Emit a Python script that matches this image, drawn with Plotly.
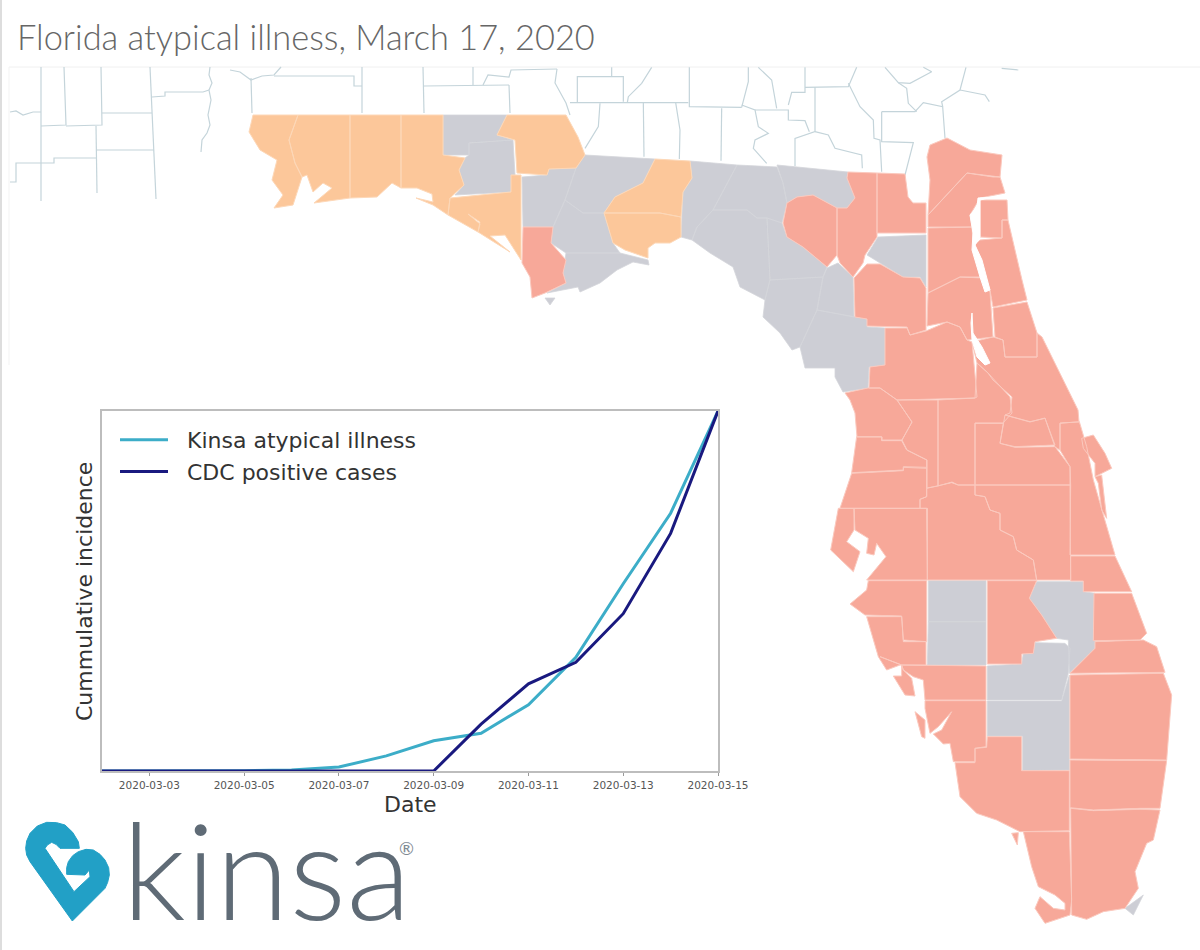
import plotly.graph_objects as go

# inset chart data (share of the 03-15 value)
dates = ["2020-03-02", "2020-03-03", "2020-03-04", "2020-03-05", "2020-03-06", "2020-03-07", "2020-03-08",
         "2020-03-09", "2020-03-10", "2020-03-11", "2020-03-12", "2020-03-13", "2020-03-14", "2020-03-15"]
kinsa_values = [0, 0, 0, 0.001, 0.003, 0.011, 0.042, 0.084, 0.105, 0.184, 0.316, 0.52, 0.716, 1]
cdc_values = [0, 0, 0, 0, 0, 0, 0, 0, 0.13, 0.242, 0.302, 0.437, 0.66, 1]
tick_dates = ["2020-03-03", "2020-03-05", "2020-03-07", "2020-03-09", "2020-03-11", "2020-03-13", "2020-03-15"]


def crop(pts, ox, oy):
    return [(ox + x / 3, oy + y / 3) for x, y in pts]


# county outlines, map units = picture pixels
orange_counties = {
    "Escambia": [(253, 115), (298, 115), (289, 140), (295, 163), (302, 177), (293, 205), (274, 208), (283, 195),
                 (272, 180), (277, 160), (260, 150), (249, 132)],
    "Santa Rosa": [(298, 115), (350, 115), (350, 198), (314, 203), (332, 188), (323, 183), (313, 192), (307, 175),
                   (302, 177), (295, 163), (289, 140)],
    "Okaloosa": [(350, 115), (401, 115), (401, 188), (392, 183), (377, 197), (350, 198)],
    "Walton": [(401, 115), (443, 115), (443, 155), (465, 158), (459, 170), (464, 185), (450, 198), (448, 215),
               (433, 205), (416, 198), (433, 202), (432, 194), (417, 188), (401, 188)],
    "Jackson": [(507, 115), (566, 115), (578, 137), (585, 155), (576, 168), (549, 169), (547, 175), (517, 173),
                (515, 140), (497, 135)],
    "Bay": [(450, 198), (511, 192), (511, 175), (521, 175), (521, 260), (505, 235), (490, 236), (510, 252),
            (478, 232), (480, 222), (468, 214), (480, 224), (478, 232), (448, 215)],
    "Leon": [(655, 159), (690, 161), (692, 178), (683, 192), (681, 217), (660, 213), (604, 213), (615, 197),
             (643, 183)],
    "Wakulla": [(604, 213), (660, 213), (681, 217), (681, 237), (670, 243), (655, 243), (648, 248), (648, 258),
                (625, 250), (613, 243)],
}
salmon_counties = {
    "Gulf": [(523, 227), (553, 227), (551, 243), (566, 260), (563, 273), (566, 283), (545, 293), (532, 298),
             (530, 277), (522, 263)],
    "Suwannee": [(797, 197), (813, 195), (837, 208), (837, 255), (827, 267), (803, 247), (787, 237), (783, 223),
                 (787, 203)],
    "Columbia": [(848, 172), (877, 173), (877, 237), (865, 255), (863, 263), (853, 277), (840, 263), (837, 255),
                 (837, 208), (847, 208), (855, 198), (847, 178)],
    "Baker": [(877, 173), (905, 174), (908, 197), (913, 203), (926, 203), (926, 233), (877, 233)],
    "Alachua": [(867, 264), (880, 264), (903, 277), (920, 278), (926, 288), (926, 330), (910, 335), (907, 327),
                (867, 326), (867, 319), (855, 317), (854, 278)],
    "Nassau": [(947, 138), (970, 150), (1002, 155), (1000, 177), (967, 173), (928, 215), (930, 180), (927, 157),
               (930, 145)],
    "Duval": [(967, 173), (993, 177), (1000, 177), (1005, 193), (980, 198), (970, 215), (972, 227), (928, 227),
              (928, 215)],
    "St Johns north": [(980, 200), (1007, 200), (1008, 220), (1002, 220), (1002, 238), (980, 237)],
    "St Johns": [(980, 240), (1002, 238), (1002, 220), (1008, 220), (1022, 280), (1027, 300), (993, 307),
                 (990, 290), (975, 245)],
    "Clay": [(928, 228), (972, 227), (973, 243), (982, 277), (960, 277), (928, 293)],
    "Putnam": [(928, 293), (960, 277), (983, 278), (990, 292), (993, 337), (967, 340), (960, 327), (947, 322),
               (927, 326)],
    "Flagler": [(993, 308), (1027, 302), (1037, 333), (1037, 357), (1005, 357), (1003, 340), (995, 337)],
    "Marion": [(870, 367), (885, 365), (885, 328), (907, 328), (910, 335), (926, 331), (947, 322), (960, 327),
               (967, 340), (972, 342), (977, 397), (975, 398), (897, 400), (880, 388), (869, 388)],
    "Volusia": [(993, 337), (1003, 340), (1005, 357), (1037, 357), (1037, 333), (1042, 337), (1078, 410),
                (1079, 422), (1060, 423), (1060, 450), (1055, 447), (1045, 418), (1030, 422), (1005, 415),
                (1010, 413), (1012, 397), (993, 380), (988, 373), (977, 363), (972, 342)],
    "Citrus": [(845, 393), (868, 388), (880, 388), (897, 400), (912, 422), (902, 440), (882, 440), (882, 437),
               (857, 437), (855, 413), (850, 400)],
    "Sumter": [(897, 400), (938, 400), (938, 486), (927, 488), (927, 460), (907, 450), (902, 440), (912, 422)],
    "Lake": [(938, 400), (975, 398), (977, 363), (988, 373), (1010, 397), (1012, 413), (1003, 423), (975, 423),
             (975, 485), (958, 485), (952, 482), (938, 486)],
    "Seminole": crop([(615, 105), (690, 125), (735, 115), (765, 195), (645, 200), (600, 190)], 800, 380),
    "Orange": crop([(525, 130), (610, 130), (600, 190), (645, 202), (765, 200), (810, 260), (810, 315), (525, 315)],
                   800, 380),
    "Osceola": crop([(525, 315), (810, 315), (812, 600), (710, 600), (700, 540), (650, 510), (640, 470), (600, 450),
                     (600, 400), (570, 390), (555, 350), (525, 345)], 800, 380),
    "Polk": crop([(380, 325), (415, 318), (455, 308), (475, 315), (525, 315), (525, 345), (555, 350), (570, 390),
                  (600, 400), (600, 450), (640, 470), (650, 510), (700, 540), (710, 600), (382, 600), (382, 385),
                  (360, 385), (360, 358), (380, 350)], 800, 380),
    "Brevard": crop([(780, 130), (838, 125), (860, 200), (880, 300), (900, 370), (945, 525), (810, 525), (812, 315),
                     (810, 260), (780, 210)], 800, 380),
    "Hernando": crop([(170, 170), (245, 170), (245, 182), (305, 182), (320, 210), (380, 240), (380, 265), (310, 262),
                      (310, 270), (155, 278)], 800, 380),
    "Pasco": crop([(155, 280), (310, 272), (310, 260), (380, 262), (380, 350), (360, 358), (360, 385), (120, 385)],
                  800, 380),
    "Hillsborough": crop([(162, 385), (380, 385), (382, 600), (200, 600), (258, 530), (230, 490), (222, 525),
                          (200, 520), (205, 475), (165, 450)], 800, 380),
    "Pinellas": crop([(115, 385), (162, 385), (162, 450), (140, 485), (180, 515), (160, 575), (92, 510)], 800, 380),
    "Manatee": crop([(205, 602), (380, 602), (380, 785), (310, 780), (305, 708), (195, 705), (150, 672), (200, 630)],
                    800, 380),
    "Highlands": crop([(562, 602), (710, 602), (688, 655), (725, 705), (770, 775), (705, 785), (700, 820), (665, 822),
                       (665, 852), (562, 852)], 800, 380),
    "Indian River": crop([(812, 528), (945, 528), (995, 635), (850, 635), (850, 603), (812, 603)], 800, 380),
    "St Lucie": crop([(882, 640), (995, 640), (1040, 760), (1020, 780), (880, 782)], 800, 380),
    "Merritt Island": crop([(845, 175), (880, 165), (915, 220), (935, 265), (885, 290), (885, 250), (850, 205)],
                           800, 380),
    "Hutchinson": crop([(885, 290), (905, 285), (920, 415), (905, 390), (895, 310)], 800, 380),
    "Sarasota": crop([(0, 50), (65, 75), (65, 108), (40, 108), (75, 165), (105, 168), (95, 115), (70, 90), (65, 75)],
                     880, 640) + crop([(0, 50)], 880, 640),
    "Sarasota north": crop([(200, 710), (305, 710), (310, 785), (378, 785), (378, 855), (300, 855), (260, 870),
                            (235, 830)], 800, 380),
    "Charlotte": crop([(65, 75), (318, 78), (318, 180), (135, 180), (130, 120), (100, 110), (70, 90)], 880, 640),
    "Lee": crop([(135, 182), (318, 182), (318, 320), (285, 325), (285, 365), (220, 365), (210, 310), (190, 312),
                 (160, 282), (185, 270), (215, 215), (175, 260), (150, 280), (135, 205)], 880, 640),
    "Pine Island": crop([(105, 215), (135, 240), (135, 295), (125, 290)], 880, 640),
    "Martin": crop([(570, 100), (645, 25), (645, 5), (790, 0), (830, 20), (855, 97)], 880, 640),
    "Palm Beach": crop([(570, 105), (850, 100), (875, 165), (860, 360), (570, 357)], 880, 640),
    "Broward": crop([(570, 360), (860, 362), (840, 505), (780, 505), (640, 510), (570, 503)], 880, 640),
    "Miami-Dade": crop([(572, 505), (640, 512), (780, 508), (840, 510), (820, 600), (800, 610), (765, 695), (775, 745),
                        (735, 805), (670, 815), (620, 838), (575, 825)], 880, 640),
    "Collier": crop([(322, 290), (425, 290), (425, 392), (568, 392), (568, 572), (420, 575), (350, 540), (290, 520),
                     (240, 470), (225, 368), (285, 368), (285, 325), (320, 322)], 880, 640),
    "Monroe": crop([(430, 575), (568, 575), (575, 780), (570, 825), (495, 850), (465, 805), (480, 770), (520, 805),
                    (555, 810), (555, 790), (525, 765), (475, 740), (455, 680)], 880, 640),
    "Marco": crop([(395, 580), (415, 578), (412, 615)], 880, 640),
}
gray_counties = {
    "Holmes": [(443, 115), (507, 115), (497, 135), (513, 140), (469, 143), (469, 155), (443, 155)],
    "Washington": [(469, 143), (513, 140), (515, 175), (511, 192), (455, 195), (464, 185), (459, 170), (465, 158),
                   (469, 155)],
    "Calhoun": [(522, 177), (547, 175), (549, 169), (576, 168), (565, 200), (553, 227), (523, 227)],
    "Gadsden": [(585, 155), (655, 159), (643, 183), (615, 197), (604, 213), (583, 213), (565, 200), (576, 168)],
    "Liberty": [(565, 200), (583, 213), (604, 213), (613, 243), (620, 253), (566, 253), (551, 243), (553, 227)],
    "Franklin": [(566, 253), (620, 253), (648, 260), (649, 265), (633, 262), (617, 270), (600, 283), (580, 292),
                 (578, 287), (547, 293), (566, 283), (563, 273)],
    "St Vincent": [(545, 298), (555, 298), (550, 305)],
    "Jefferson": [(690, 161), (737, 165), (713, 210), (697, 227), (692, 240), (681, 237), (683, 192), (692, 178)],
    "Madison": [(737, 165), (777, 167), (783, 183), (787, 203), (782, 223), (767, 218), (757, 218), (747, 210),
                (713, 210)],
    "Taylor": [(692, 240), (697, 227), (713, 210), (747, 210), (757, 218), (767, 218), (770, 280), (765, 300),
               (740, 287), (733, 267), (710, 253)],
    "Dixie": [(770, 280), (823, 277), (817, 310), (800, 347), (792, 350), (780, 333), (763, 317), (765, 300)],
    "Lafayette": [(767, 218), (782, 223), (787, 237), (803, 247), (827, 267), (823, 277), (770, 280)],
    "Hamilton": [(777, 165), (848, 172), (847, 178), (855, 198), (847, 208), (837, 208), (813, 195), (797, 197),
                 (787, 203), (783, 183)],
    "Union": [(878, 237), (926, 235), (926, 287), (920, 277), (903, 277), (880, 263), (867, 255)],
    "Gilchrist": [(827, 268), (838, 263), (853, 277), (854, 317), (817, 310), (823, 277)],
    "Levy": [(817, 310), (855, 317), (867, 319), (867, 327), (885, 328), (885, 365), (869, 367), (868, 388), (843, 392),
             (835, 377), (835, 368), (805, 368), (800, 347)],
    "Hardee": crop([(385, 602), (558, 602), (558, 725), (385, 725)], 800, 380),
    "DeSoto": crop([(385, 725), (558, 725), (558, 855), (382, 855)], 800, 380),
    "Okeechobee": crop([(710, 605), (850, 605), (850, 635), (885, 640), (885, 804), (808, 880), (805, 780), (770, 775),
                        (725, 705), (688, 655)], 800, 380),
    "Glades": crop([(322, 78), (425, 72), (430, 40), (460, 38), (465, 8), (555, 10), (570, 25), (565, 100), (545, 180),
                    (322, 180)], 880, 640),
    "Hendry": crop([(322, 183), (545, 183), (568, 105), (568, 390), (428, 392), (428, 288), (322, 288)], 880, 640),
    "Keys": crop([(735, 805), (790, 765), (760, 825)], 880, 640),
}
# white water cut out of the county fills
water_outlines = {
    "St Johns River": [(978, 198), (993, 197), (980, 200), (980, 237), (975, 245), (982, 260), (990, 290), (985, 292),
                       (980, 277), (972, 250), (973, 233), (970, 215), (977, 207)],
    "Lake George": [(972, 313), (973, 333), (982, 347), (990, 363), (985, 365), (977, 357), (972, 340), (971, 323)],
}
# neighbouring Alabama / Georgia county lines
neighbour_lines = [
    [(41, 67), (41, 201)], [(64, 67), (66, 125), (41, 126)], [(101, 67), (102, 125), (66, 126)],
    [(150, 67), (156, 199)], [(102, 113), (152, 113)], [(96, 126), (97, 193)], [(96, 150), (154, 150)],
    [(41, 163), (54, 163), (54, 158), (96, 158)], [(10, 182), (16, 182), (16, 163), (41, 163)],
    [(10, 112), (16, 111), (23, 115), (33, 112), (41, 112)],
    [(152, 97), (165, 96), (165, 92), (203, 92), (209, 90)],
    [(210, 67), (209, 75), (212, 83), (209, 90), (211, 100), (208, 115), (210, 125), (207, 133), (202, 140), (201, 152)],
    [(230, 70), (240, 72), (251, 80), (262, 76), (274, 75), (281, 67)], [(251, 78), (252, 113)],
    [(274, 76), (354, 76), (354, 86), (362, 86)], [(362, 67), (362, 113)], [(423, 67), (424, 113)],
    [(424, 86), (509, 85)], [(473, 67), (473, 85)],
    [(483, 85), (488, 75), (509, 77), (511, 70), (557, 69)], [(509, 85), (510, 113)],
    [(557, 69), (555, 83), (566, 103), (570, 115)],
] + [crop(line, 570, 60) for line in [
    [(0, 128), (355, 128)], [(22, 128), (22, 50), (160, 50), (160, 125)], [(125, 22), (125, 50)],
    [(245, 22), (215, 70), (175, 110), (172, 128)], [(358, 22), (358, 140), (515, 142)],
    [(515, 142), (535, 65), (535, 22)], [(90, 130), (85, 200), (45, 265)], [(220, 128), (222, 290)],
    [(317, 128), (330, 210), (328, 297)], [(455, 145), (453, 302)],
    [(515, 135), (555, 150), (565, 200), (595, 220), (555, 240), (550, 265), (590, 310)],
    [(555, 150), (655, 150), (655, 180), (705, 182), (718, 215)], [(620, 145), (605, 60), (565, 22)],
    [(655, 135), (665, 97), (705, 97), (705, 22)], [(705, 82), (835, 80), (860, 22)],
    [(735, 82), (735, 215), (675, 235), (675, 318)], [(735, 215), (775, 225), (795, 265), (875, 285), (877, 325)],
    [(835, 70), (870, 140), (910, 180), (912, 235), (930, 240), (935, 335)],
    [(935, 155), (1035, 155), (1060, 128), (1118, 140), (1125, 235)],
    [(935, 155), (935, 245), (1030, 248), (1005, 345)],
    [(945, 22), (985, 68), (1020, 70), (1085, 35), (1060, 22)], [(985, 68), (1010, 85), (1015, 130), (1040, 155)],
    [(1188, 22), (1170, 90), (1115, 125), (1118, 140)], [(1170, 90), (1245, 105), (1258, 125)],
    [(1295, 25), (1345, 30)],
]]
# kinsa heart mark
heart_outline = crop([(187, 318), (60, 140), (50, 120), (47, 100), (50, 78), (60, 55), (82, 33), (110, 22), (140, 23), (165, 30),
                      (188, 52), (205, 80), (208, 100), (150, 100), (138, 88), (125, 82), (112, 90), (105, 100), (192, 230),
                      (240, 185), (238, 165), (225, 180), (170, 178), (170, 158), (175, 140), (188, 122), (205, 110),
                      (228, 103), (250, 105), (270, 118), (285, 135), (296, 158), (298, 180), (293, 202), (285, 220)],
                     10, 815)


def rings(outlines):
    xs, ys = [], []
    for pts in outlines:
        xs += [p[0] for p in pts] + [pts[0][0], None]
        ys += [p[1] for p in pts] + [pts[0][1], None]
    return xs, ys


def add_region(fig, outlines, fill, edge, width=1.0):
    xs, ys = rings(outlines)
    fig.add_trace(go.Scatter(x=xs, y=ys, mode="lines", fill="toself", fillcolor=fill, line=dict(color=edge, width=width),
                             hoverinfo="skip", showlegend=False, xaxis="x2", yaxis="y2"))


fig = go.Figure()

# neighbouring states
line_x, line_y = [], []
for line in neighbour_lines:
    line_x += [p[0] for p in line] + [None]
    line_y += [p[1] for p in line] + [None]
fig.add_trace(go.Scatter(x=line_x, y=line_y, mode="lines", line=dict(color="#C4D4DA", width=1.2),
                         hoverinfo="skip", showlegend=False, xaxis="x2", yaxis="y2"))

add_region(fig, gray_counties.values(), "#CDCED5", "#D4D5DA", 0.8)
add_region(fig, orange_counties.values(), "#FCC79A", "#FDD8B8")
add_region(fig, salmon_counties.values(), "#F7A899", "#FBC9BE")
add_region(fig, water_outlines.values(), "#FFFFFF", "#FFFFFF")
add_region(fig, [heart_outline], "#22A0C6", "#22A0C6")

# inset line chart
fig.add_trace(go.Scatter(x=dates, y=kinsa_values, mode="lines", name="\u00a0\u00a0Kinsa atypical illness", legendgroup="kinsa",
                         line=dict(color="#3CADC8", width=3)))
fig.add_trace(go.Scatter(x=dates, y=cdc_values, mode="lines", name="\u00a0\u00a0CDC positive cases", legendgroup="cdc",
                         line=dict(color="#19197F", width=3)))

fig.update_layout(
    width=1200, height=950, margin=dict(l=0, r=0, t=0, b=0, autoexpand=False),
    paper_bgcolor="#FFFFFF", plot_bgcolor="rgba(0,0,0,0)",
    xaxis=dict(domain=[102 / 1200, 718 / 1200], type="date", range=["2020-03-02", "2020-03-15"], tickvals=tick_dates,
               tickformat="%Y-%m-%d", tickfont=dict(family="DejaVu Sans", size=10.5, color="#555555"), ticks="outside",
               ticklen=3, tickcolor="#999999", showgrid=False, zeroline=False, showline=True, mirror=True,
               linecolor="#BDBDBD", linewidth=2, anchor="y"),
    yaxis=dict(domain=[1 - 771 / 950, 1 - 411 / 950], range=[0, 1], showticklabels=False, ticks="", showgrid=False,
               zeroline=False, showline=True, mirror=True, linecolor="#BDBDBD", linewidth=2, anchor="x"),
    xaxis2=dict(domain=[0, 1], range=[0, 1200], visible=False, anchor="y2"),
    yaxis2=dict(domain=[0, 1], range=[950, 0], visible=False, anchor="x2"),
    legend=dict(x=115 / 1200, y=1 - 419 / 950, xanchor="left", yanchor="top", bgcolor="rgba(0,0,0,0)", tracegroupgap=0,
                font=dict(family="DejaVu Sans", size=22, color="#333333"), itemwidth=48),
    annotations=[
        dict(text="Florida atypical illness, March 17, 2020", x=15 / 1200, y=1 - 36 / 950, xref="paper", yref="paper",
             xanchor="left", yanchor="middle", showarrow=False, font=dict(family="Lato", size=34.4, color="#666666", weight=300)),
        dict(text="Cummulative incidence", x=84 / 1200, y=1 - 592 / 950, xref="paper", yref="paper", textangle=-90,
             xanchor="center", yanchor="middle", showarrow=False, font=dict(family="DejaVu Sans", size=22, color="#333333")),
        dict(text="Date", x=410 / 1200, y=1 - 804 / 950, xref="paper", yref="paper", xanchor="center", yanchor="middle",
             showarrow=False, font=dict(family="DejaVu Sans", size=22, color="#333333")),
        dict(text="kinsa", x=120 / 1200, y=1 - 868 / 950, xref="paper", yref="paper", xanchor="left", yanchor="middle",
             showarrow=False, font=dict(family="Lato", size=134, color="#5F6B76", weight=300)),
        dict(text="®", x=406 / 1200, y=1 - 848 / 950, xref="paper", yref="paper", xanchor="center", yanchor="middle",
             showarrow=False, font=dict(family="Lato", size=18, color="#7F8A93")),
    ],
    shapes=[
        dict(type="rect", xref="paper", yref="paper", x0=0, x1=2 / 1200, y0=0, y1=1, fillcolor="#DDDDDD", line_width=0, layer="below"),
        dict(type="line", xref="paper", yref="paper", x0=9 / 1200, x1=1, y0=1 - 67 / 950, y1=1 - 67 / 950,
             line=dict(color="#F0F0F0", width=1), layer="below"),
        dict(type="line", xref="paper", yref="paper", x0=9 / 1200, x1=9 / 1200, y0=1 - 67 / 950, y1=1 - 365 / 950,
             line=dict(color="#F3F3F3", width=1), layer="below"),
    ],
)

fig.write_html("out.html", config={"displayModeBar": False}, post_script="document.body.style.margin='0';")
